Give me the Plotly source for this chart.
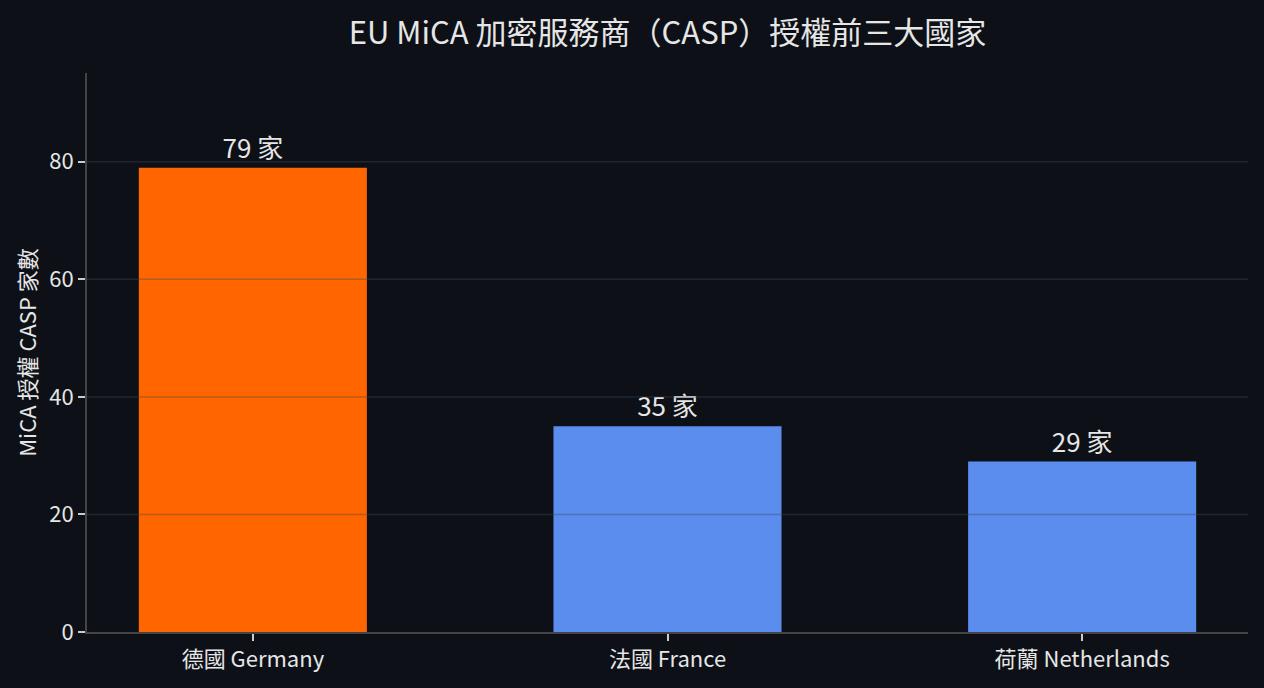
import plotly.graph_objects as go

# 資料
countries = ["德國 Germany", "法國 France", "荷蘭 Netherlands"]
casp_counts = [79, 35, 29]
bar_colors = ["#ff6600", "#5b8def", "#5b8def"]
y_ticks = [0, 20, 40, 60, 80]

BG = "#0d1117"
TXT = "#e6e6e6"
FONT = "Noto Sans CJK TC"

fig = go.Figure(go.Bar(
    x=countries,
    y=casp_counts,
    marker=dict(color=bar_colors, line=dict(width=0)),
    texttemplate="%{y} 家",
    textposition="outside",
    textfont=dict(size=26, color=TXT, family=FONT),
    constraintext="none",
    cliponaxis=False,
    width=0.55,
))

# 格線畫在長條之上（半透明）
for v in y_ticks[1:]:
    fig.add_shape(type="line", xref="paper", x0=0, x1=1, yref="y", y0=v, y1=v,
                  line=dict(color="rgba(66,70,84,0.38)", width=1.5), layer="above")

fig.update_layout(
    width=1264, height=688,
    paper_bgcolor=BG, plot_bgcolor=BG,
    font=dict(family=FONT, color=TXT, size=22),
    title=dict(text="EU MiCA 加密服務商（CASP）授權前三大國家", xref="paper", x=0.5,
               xanchor="center", y=0.952, yanchor="middle",
               font=dict(size=31, color=TXT)),
    margin=dict(l=87, r=16, t=73, b=56),
    showlegend=False,
)
fig.update_xaxes(
    range=[-0.4, 2.4], showgrid=False, showline=True, linecolor="#444444", linewidth=2,
    ticks="outside", ticklen=7, tickwidth=2, tickcolor="#cccccc",
    tickfont=dict(size=22, color=TXT),
)
fig.update_yaxes(
    range=[0, 95.1], tickvals=y_ticks, showgrid=False, zeroline=False,
    showline=True, linecolor="#444444", linewidth=2,
    ticks="outside", ticklen=7, tickwidth=2, tickcolor="#cccccc",
    tickfont=dict(size=22, color=TXT),
    title=dict(text="MiCA 授權 CASP 家數", font=dict(size=22, color=TXT), standoff=6),
)

fig.write_html("out.html", config={"displayModeBar": False},
               post_script="document.body.style.margin='0';document.body.style.overflow='hidden';")
